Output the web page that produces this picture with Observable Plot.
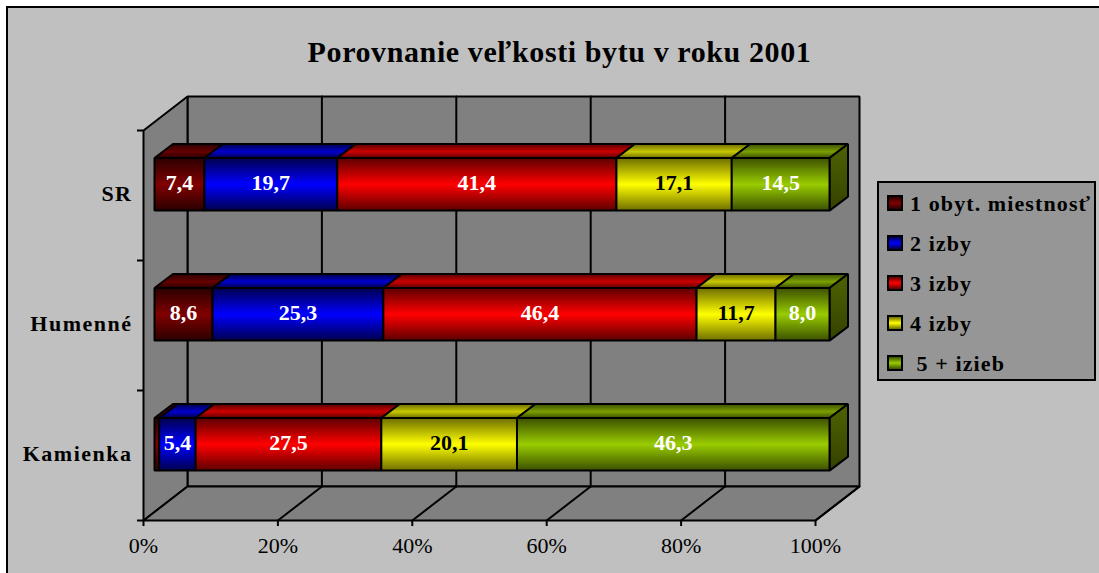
<!DOCTYPE html>
<html lang="sk">
<head>
<meta charset="utf-8">
<title>Porovnanie veľkosti bytu v roku 2001</title>
<script src="https://cdn.jsdelivr.net/npm/d3@7"></script>
<script src="https://cdn.jsdelivr.net/npm/@observablehq/plot@0.6"></script>
<style>
html,body{margin:0;padding:0;width:1099px;height:573px;overflow:hidden;background:#fff}
#bg{position:absolute;left:6px;top:6px;width:1200px;height:700px;border:2px solid #000;background:#c0c0c0}
#chart{position:absolute;left:0;top:0;width:1099px;height:573px}
#chart svg{display:block;background:transparent;font-family:"Liberation Serif","Times New Roman",serif}
.cat text{letter-spacing:1.5px}
.ttl text{letter-spacing:.6px}
#legend{position:absolute;left:877px;top:181px;width:215px;height:196px;border:2px solid #000;background:#969696;font:bold 22px "Liberation Serif",serif;letter-spacing:1.1px;color:#000}
.row{position:absolute;left:8px;height:17px;line-height:17px;white-space:pre;display:flex;align-items:center}
.row span.t{position:relative;top:1px}
.sw{display:inline-block;width:12px;height:12px;border:2px solid #000;margin-right:7px;flex:none}
</style>
</head>
<body>
<div id="bg"></div>
<div id="chart"></div>
<div id="legend"></div>
<script>
const titleText = "Porovnanie veľkosti bytu v roku 2001";
const categories = ["Kamienka", "Humenné", "SR"];
const seriesNames = ["1 obyt. miestnosť", "2 izby", "3 izby", "4 izby", " 5 + izieb"];
const room1 = [0.7, 8.6, 7.4];
const room2 = [5.4, 25.3, 19.7];
const room3 = [27.5, 46.4, 41.4];
const room4 = [20.1, 11.7, 17.1];
const room5 = [46.3, 8.0, 14.5];
const seriesValues = [room1, room2, room3, room4, room5];
const brightColors = ["#800000", "#0000ff", "#ff0000", "#ffff00", "#99cc00"];
const topColors = ["#660000", "#0000cc", "#cc0000", "#c8c800", "#7a9f00"];
const darkColors = ["#2b0000", "#00004d", "#5c0000", "#6e6e00", "#3c5000"];
const labelColors = ["#fff", "#fff", "#fff", "#000", "#fff"];
const xTicks = [0, 20, 40, 60, 80, 100];

const marginLeft = 143, marginRight = 284, marginTop = 130, marginBottom = 53;
const W = 1099, H = 573;
const pxX = (W - marginLeft - marginRight) / 100;
const pxY = (H - marginTop - marginBottom) / 3;
const depthX = 44 / pxX, depthY = 34 / pxY;     // wall depth, in data units
const fx = [0.25, 0.67], fy = [0.33, 0.74];     // bar depth position within the wall
const halfBar = 26.3 / pxY;
const stretch = 1.0045;

// Wall polygons: [x, y] in data units
const poly = (id, pts) => pts.map(([x, y]) => ({id, x, y}));
const backWall = poly("b", [[depthX, depthY], [100 + depthX, depthY], [100 + depthX, 3 + depthY], [depthX, 3 + depthY]]);
const leftWall = poly("l", [[0, 0], [depthX, depthY], [depthX, 3 + depthY], [0, 3]]);
const floor = poly("f", [[0, 0], [100, 0], [100 + depthX, depthY], [depthX, depthY]]);
const gridBack = xTicks.slice(1, -1).flatMap(t => poly("g" + t, [[t + depthX, depthY], [t + depthX, 3 + depthY]]));
const gridFloor = xTicks.slice(1).flatMap(t => poly("h" + t, [[t, 0], [t + depthX, depthY]]));

// Segments stacked to 100 %
const segments = [];
categories.forEach((category, c) => {
  const total = d3.sum(seriesValues, s => s[c]);
  let acc = 0;
  seriesValues.forEach((s, i) => {
    const x0 = acc / total * 100; acc += s[c];
    segments.push({category, c, i, value: s[c], x0, x1: acc / total * 100});
  });
});
const yc = c => c + 0.5;
const X = (v, f) => v * stretch + f * depthX;
const Y = (c, side, f) => yc(c) + side * halfBar + f * depthY;
const front = s => poly(`fr${s.c}-${s.i}`, [
  [X(s.x0, fx[0]), Y(s.c, -1, fy[0])], [X(s.x1, fx[0]), Y(s.c, -1, fy[0])],
  [X(s.x1, fx[0]), Y(s.c, 1, fy[0])], [X(s.x0, fx[0]), Y(s.c, 1, fy[0])]]);
const top_ = s => poly(`tp${s.c}-${s.i}`, [
  [X(s.x0, fx[0]), Y(s.c, 1, fy[0])], [X(s.x1, fx[0]), Y(s.c, 1, fy[0])],
  [X(s.x1, fx[1]), Y(s.c, 1, fy[1])], [X(s.x0, fx[1]), Y(s.c, 1, fy[1])]]);
const side = c => poly(`sd${c}`, [
  [X(100, fx[0]), Y(c, -1, fy[0])], [X(100, fx[1]), Y(c, -1, fy[1])],
  [X(100, fx[1]), Y(c, 1, fy[1])], [X(100, fx[0]), Y(c, 1, fy[0])]]);

const closed = (data, fill, sw = 2) => Plot.line(data, {x: "x", y: "y", z: "id", fill, stroke: "#000", strokeWidth: sw, curve: "linear-closed", strokeLinejoin: "miter"});
const open = (data) => Plot.line(data, {x: "x", y: "y", z: "id", stroke: "#000", strokeWidth: 2});

const defs = () => {
  const ns = "http://www.w3.org/2000/svg";
  const d = document.createElementNS(ns, "defs");
  const add = (id, stops) => {
    const g = document.createElementNS(ns, "linearGradient");
    g.setAttribute("id", id); g.setAttribute("x1", 0); g.setAttribute("x2", 0); g.setAttribute("y1", 0); g.setAttribute("y2", 1);
    stops.forEach(([o, c]) => {
      const st = document.createElementNS(ns, "stop");
      st.setAttribute("offset", o); st.setAttribute("stop-color", c); g.appendChild(st);
    });
    d.appendChild(g);
  };
  brightColors.forEach((b, i) => {
    add("front" + i, [[0, darkColors[i]], [0.5, b], [1, darkColors[i]]]);
    add("top" + i, [[0, darkColors[i]], [0.55, topColors[i]], [1, darkColors[i]]]);
  });
  add("side", [[0, "#4f6300"], [1, "#344200"]]);
  return d;
};

const labels = segments.filter(s => !(s.i === 0 && s.c === 0));
const marks = [
  defs,
  closed(backWall, "#808080"),
  closed(leftWall, "#808080"),
  closed(floor, "#808080"),
  open(gridBack),
  open(gridFloor),
  Plot.axisX({ticks: xTicks, tickFormat: d => d + "%", tickSize: 6, tickPadding: 11, fontSize: 22, strokeWidth: 2, label: null, fill: "#000", stroke: "#000"}),
  Plot.axisY({ticks: [0, 1, 2, 3], tickFormat: () => "", tickSize: 6, strokeWidth: 2, label: null, stroke: "#000"}),
  Plot.text(categories, {
    x: () => 0, y: (d, i) => yc(i), text: d => d, textAnchor: "end", dx: -11, dy: -2, fontWeight: "bold", fontSize: 22, fill: "#000", className: "cat"
  })
];
segments.forEach(s => marks.push(closed(top_(s), `url(#top${s.i})`)));
categories.forEach((_, c) => marks.push(closed(side(c), "url(#side)")));
segments.forEach(s => marks.push(closed(front(s), `url(#front${s.i})`)));
brightColors.forEach((_, i) => {
  marks.push(Plot.text(labels.filter(s => s.i === i), {
    x: s => X((s.x0 + s.x1) / 2, fx[0]),
    y: s => yc(s.c) + fy[0] * depthY,
    text: s => s.value.toFixed(1).replace(".", ","),
    fill: labelColors[i], fontWeight: "bold", fontSize: 22, dy: -1
  }));
});
marks.push(Plot.text([titleText], {
  frameAnchor: "top", dy: -90, dx: 80, text: d => d, fontWeight: "bold", fontSize: 30, fill: "#000", className: "ttl"
}));

const plot = Plot.plot({
  width: W, height: H, marginLeft, marginRight, marginTop, marginBottom,
  style: {background: "transparent", overflow: "visible"},
  x: {domain: [0, 100], axis: null},
  y: {domain: [0, 3], axis: null},
  marks
});
document.getElementById("chart").appendChild(plot);

const legend = document.getElementById("legend");
seriesNames.forEach((name, i) => {
  const row = document.createElement("div");
  row.className = "row";
  row.style.top = (11 + i * 40) + "px";
  const sw = document.createElement("span");
  sw.className = "sw";
  sw.style.background = `linear-gradient(${darkColors[i]}, ${brightColors[i]} 50%, ${darkColors[i]})`;
  row.appendChild(sw);
  const t = document.createElement("span");
  t.className = "t";
  t.textContent = name;
  row.appendChild(t);
  legend.appendChild(row);
});
</script>
</body>
</html>
